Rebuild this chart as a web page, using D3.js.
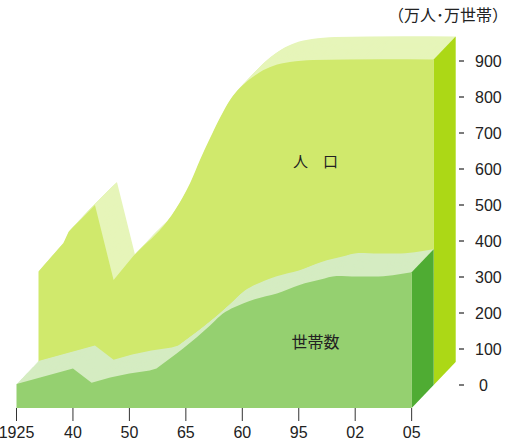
<!DOCTYPE html>
<html>
<head>
<meta charset="utf-8">
<script src="https://cdn.jsdelivr.net/npm/d3@7"></script>
<style>
	body { margin: 0; background: #fff; }
	svg { display: block; }
	text { font-family: "Liberation Sans", Arial, sans-serif; fill: #222; }
	.jp { font-family: "Noto Sans CJK JP", sans-serif; }
</style>
</head>
<body>
<div id="chart"></div>
<script>
// x axis: the ticks are evenly spaced even though the years are not
var tickYears = [1925, 1940, 1950, 1965, 1980, 1995, 2002, 2005];
var tickLabels = ["1925", "40", "50", "65", "60", "95", "02", "05"];
var yTicks = [0, 100, 200, 300, 400, 500, 600, 700, 800, 900];

// 人口 (万人)
var popYears = [1925, 1931.6, 1933, 1940, 1943.3, 1946.8, 1948.6, 1956.3, 1960.3, 1962.9, 1965.6, 1968.2, 1970.9, 1973.5, 1976.2, 1978.8, 1982.3, 1986.8, 1992.9, 2002.2, 2005];
var popValues = [315, 394, 426, 500, 292, 358, 386, 486, 561, 625, 686, 742, 792, 825, 850, 869, 886, 897, 903, 905, 904];

// 世帯数 (万世帯)
var hhYears = [1925, 1940, 1943.3, 1946.6, 1950, 1955.4, 1957.2, 1971.5, 1974, 1980.2, 1983.3, 1989.2, 1995.1, 1997.7, 1999.7, 2002.1, 2003, 2004, 2005];
var hhValues = [67, 110, 70, 85, 96, 104, 110, 230, 255, 290, 302, 318, 342, 357, 367, 365, 365, 369, 377];

var width = 507,
	height = 442;

// depth offset of one block (towards the back, up-right)
var dx = 22,
	dy = 23;

var svg = d3.select("#chart")
	.append("svg")
	.attr("width", width)
	.attr("height", height);

// front plane (households) scales
var x = d3.scaleLinear()
	.domain(tickYears)
	.range(tickYears.map(function (d, i) {
		return 16.5 + i * 56.45;
	}));

var y = d3.scaleLinear()
	.domain([0, 900])
	.range([385 + dy, 61 + dy]);

// straight segments up to index "bend", smooth after it
function blockPath(data, bend) {
	var sharp = d3.line()
		.x(function (d) { return x(d[0]); })
		.y(function (d) { return y(d[1]); });
	var smooth = d3.line()
		.curve(d3.curveMonotoneX)
		.x(function (d) { return x(d[0]); })
		.y(function (d) { return y(d[1]); });
	var first = data[0],
		last = data[data.length - 1];
	return sharp(data.slice(0, bend + 1)) +
		smooth(data.slice(bend)).replace(/^M/, "L") +
		"L" + x(last[0]) + "," + y(0) +
		"L" + x(first[0]) + "," + y(0) + "Z";
}

function drawBlock(g, years, values, bend, colors) {
	var data = d3.zip(years, values);
	var d = blockPath(data, bend);

	// top surface: the area pushed back step by step
	var steps = 24;
	g.selectAll("path.top")
		.data(d3.range(steps, 0, -1))
		.enter()
		.append("path")
		.attr("class", "top")
		.attr("transform", function (k) {
			return "translate(" + (dx * k / steps) + "," + (-dy * k / steps) + ")";
		})
		.attr("d", d)
		.attr("fill", colors.top);

	// right side face
	var last = data[data.length - 1];
	var xe = x(last[0]),
		yt = y(last[1]),
		yb = y(0);
	g.append("path")
		.attr("d", "M" + xe + "," + yt + "L" + (xe + dx) + "," + (yt - dy) +
			"L" + (xe + dx) + "," + (yb - dy) + "L" + xe + "," + yb + "Z")
		.attr("fill", colors.side);

	// front face
	g.append("path")
		.attr("d", d)
		.attr("fill", colors.front);
}

var popG = svg.append("g").attr("transform", "translate(" + dx + "," + (-dy) + ")");
drawBlock(popG, popYears, popValues, 6, {top: "#e6f5b9", side: "#acd816", front: "#d0e96c"});

var hhG = svg.append("g");
drawBlock(hhG, hhYears, hhValues, 6, {top: "#d5ecc2", side: "#4fac33", front: "#95d070"});

// labels
svg.append("text")
	.attr("class", "jp")
	.attr("x", 315.5)
	.attr("y", 162)
	.attr("dy", "0.35em")
	.attr("text-anchor", "middle")
	.style("font-size", "15px")
	.text("人　口");

svg.append("text")
	.attr("class", "jp")
	.attr("x", 315.5)
	.attr("y", 342)
	.attr("dy", "0.35em")
	.attr("text-anchor", "middle")
	.style("font-size", "16px")
	.text("世帯数");

svg.append("text")
	.attr("class", "jp")
	.attr("x", 508)
	.attr("y", 15)
	.attr("dy", "0.35em")
	.attr("text-anchor", "end")
	.style("font-size", "16px")
	.text("（万人･万世帯）");

// y axis (on the plane of the population block)
var yAxis = svg.append("g").attr("transform", "translate(0," + (-dy) + ")");
yAxis.selectAll("line")
	.data(yTicks)
	.enter()
	.append("line")
	.attr("x1", 459)
	.attr("x2", 464)
	.attr("y1", function (d) { return y(d); })
	.attr("y2", function (d) { return y(d); })
	.attr("stroke", "#333")
	.attr("stroke-width", 1.3);
yAxis.selectAll("text")
	.data(yTicks)
	.enter()
	.append("text")
	.attr("x", function (d) { return d === 0 ? 479 : 475; })
	.attr("y", function (d) { return y(d); })
	.attr("dy", "0.35em")
	.style("font-size", "16px")
	.text(function (d) { return d; });

// x axis
var xAxis = svg.append("g");
xAxis.selectAll("line")
	.data(tickYears)
	.enter()
	.append("line")
	.attr("x1", function (d) { return x(d); })
	.attr("x2", function (d) { return x(d); })
	.attr("y1", y(0))
	.attr("y2", y(0) + 13)
	.attr("stroke", "#333")
	.attr("stroke-width", 1);
xAxis.selectAll("text")
	.data(tickYears)
	.enter()
	.append("text")
	.attr("x", function (d) { return x(d); })
	.attr("y", 438)
	.attr("text-anchor", "middle")
	.style("font-size", "16px")
	.text(function (d, i) { return tickLabels[i]; });
</script>
</body>
</html>
